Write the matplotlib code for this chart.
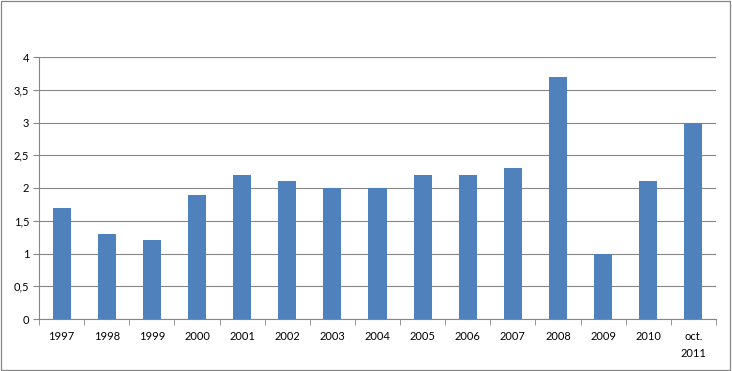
import matplotlib
matplotlib.use('Agg')
import matplotlib.pyplot as plt
import numpy as np

# data
years = ['1997', '1998', '1999', '2000', '2001', '2002', '2003', '2004',
         '2005', '2006', '2007', '2008', '2009', '2010', 'oct.\n2011']
values = [1.7, 1.3, 1.2, 1.9, 2.2, 2.1, 2.0, 2.0, 2.2, 2.2, 2.3, 3.7, 1.0, 2.1, 3.0]
yticks = [0, 0.5, 1, 1.5, 2, 2.5, 3, 3.5, 4]

plt.rcParams['font.family'] = ['Lato', 'DejaVu Sans']

grey = '#868686'
fig = plt.figure(figsize=(7.32, 3.71), dpi=100)
ax = fig.add_axes([39 / 732, 52 / 371, 677 / 732, 262 / 371])

x = np.arange(len(years))
ax.bar(x, values, width=0.4, color='#4F81BD', zorder=3)

ax.set_xlim(-0.5, len(years) - 0.5)
ax.set_ylim(0, 4)
ax.set_yticks(yticks)
ax.set_yticklabels([f'{v:g}'.replace('.', ',') for v in yticks], fontsize=8)
ax.set_xticks(x)
ax.set_xticklabels(years, fontsize=8, linespacing=1.6, va='top')
ax.set_xticks(np.arange(-0.5, len(years)), minor=True)
ax.tick_params(axis='x', which='major', length=0, pad=9)
ax.tick_params(axis='x', which='minor', length=4, color=grey, direction='out')
ax.tick_params(axis='y', length=4, color=grey, direction='out', pad=3)

ax.grid(axis='y', color=grey, linewidth=0.8, zorder=0)
for side in ['top', 'right']:
    ax.spines[side].set_visible(False)
for side in ['left', 'bottom']:
    ax.spines[side].set_color(grey)
    ax.spines[side].set_linewidth(0.8)

# outer chart border
fig.patches.append(plt.Rectangle((0.002, 0.003), 0.995, 0.993, transform=fig.transFigure,
                                 fill=False, edgecolor=grey, linewidth=0.9))

fig.savefig('out.png', dpi=100)
